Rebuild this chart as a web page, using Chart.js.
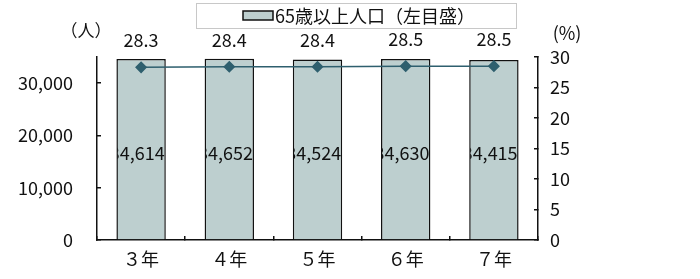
<!DOCTYPE html>
<html><head><meta charset="utf-8">
<script src="https://cdn.jsdelivr.net/npm/chart.js@4.4.1/dist/chart.umd.min.js"></script>
<style>html,body{margin:0;padding:0;background:#fff;}#wrap{width:700px;height:279px;position:relative;}</style>
</head><body><div id="wrap"><canvas id="c" width="700" height="279"></canvas></div>
<script>
const categories = ['３年', '４年', '５年', '６年', '７年'];
const population = [34614, 34652, 34524, 34630, 34415];
const ratio = [28.3, 28.4, 28.4, 28.5, 28.5];
const leftTicks = [0, 10000, 20000, 30000];
const rightTicks = [0, 5, 10, 15, 20, 25, 30];
const barLabel = '65歳以上人口（左目盛）';
const leftUnit = '（人）';
const rightUnit = '(%)';

const FONT = "'Noto Sans CJK JP', sans-serif";
const JFONT = "'Noto Sans CJK JP', sans-serif";
const BAR_FILL = '#bdcfcf';
const LINE_COL = '#2e5f6e';
const fmt = v => v.toLocaleString('en-US');

const extras = {
  id: 'extras',
  afterDatasetsDraw(chart) {
    const ctx = chart.ctx;
    const barMeta = chart.getDatasetMeta(1);
    const lineMeta = chart.getDatasetMeta(0);
    ctx.save();
    ctx.fillStyle = '#111';
    ctx.font = "18px " + FONT;
    ctx.textBaseline = 'middle';
    ctx.textAlign = 'center';
    barMeta.data.forEach((bar, i) => {
      const p = bar.getProps(['x', 'y', 'base', 'width'], true);
      ctx.save();
      ctx.beginPath();
      ctx.rect(p.x - p.width / 2 + 1, p.y, p.width - 2, p.base - p.y);
      ctx.clip();
      ctx.textAlign = 'right';
      ctx.fillText(fmt(population[i]), p.x + p.width / 2 - 1, 153);
      ctx.restore();
    });
    lineMeta.data.forEach((pt, i) => {
      ctx.fillText(ratio[i].toFixed(1), pt.x, pt.y - 27);
    });
    ctx.restore();
  },
  afterDraw(chart) {
    const ctx = chart.ctx;
    ctx.save();
    // legend box
    ctx.strokeStyle = '#c8c8c8';
    ctx.lineWidth = 1;
    ctx.strokeRect(196.5, 3.5, 320, 25);
    ctx.fillStyle = BAR_FILL;
    ctx.fillRect(243, 11, 30, 9);
    ctx.strokeStyle = '#111';
    ctx.lineWidth = 1.5;
    ctx.strokeRect(243, 11, 30, 9);
    ctx.fillStyle = '#111';
    ctx.font = "18px " + JFONT;
    ctx.textBaseline = 'middle';
    ctx.textAlign = 'left';
    ctx.fillText(barLabel, 275, 16);
    // units
    ctx.font = "17px " + JFONT;
    ctx.textAlign = 'center';
    ctx.fillText(leftUnit, 86, 31);
    ctx.font = "18px " + JFONT;
    ctx.fillText(rightUnit, 567, 33);
    ctx.restore();
  }
};

new Chart(document.getElementById('c'), {
  data: {
    labels: categories,
    datasets: [
      {
        type: 'line', label: '割合', data: ratio, yAxisID: 'y2',
        borderColor: LINE_COL, backgroundColor: LINE_COL, borderWidth: 1.5,
        pointStyle: 'rectRot', pointRadius: 5, pointHoverRadius: 5, order: 0
      },
      {
        type: 'bar', label: barLabel, data: population, yAxisID: 'y',
        backgroundColor: BAR_FILL, borderColor: '#111', borderWidth: 1.5,
        categoryPercentage: 1, barPercentage: 0.56, order: 1
      }
    ]
  },
  options: {
    responsive: false, animation: false, devicePixelRatio: 1,
    layout: { padding: { top: 57, left: 0, right: 0, bottom: 0 } },
    plugins: { legend: { display: false }, tooltip: { enabled: false } },
    scales: {
      x: {
        offset: true,
        grid: { display: true, drawOnChartArea: false, offset: true, tickLength: -4, color: '#111', tickColor: '#111', lineWidth: 1.5 },
        border: { display: true, color: '#111', width: 1.5 },
        ticks: { color: '#111', font: { size: 18, family: JFONT }, padding: 12, maxRotation: 0 },
        afterFit(s) { s.height = 39; }
      },
      y: {
        position: 'left', min: 0, max: 35000,
        afterBuildTicks(s) { s.ticks = leftTicks.map(v => ({ value: v })); },
        grid: { drawOnChartArea: false, tickLength: -4, color: '#111', tickColor: '#111', lineWidth: 1.5 },
        border: { display: true, color: '#111', width: 1.5 },
        ticks: { color: '#111', font: { size: 18, family: FONT }, padding: 28, callback: v => fmt(v) },
        afterFit(s) { s.width = 97; }
      },
      y2: {
        position: 'right', min: 0, max: 30,
        afterBuildTicks(s) { s.ticks = rightTicks.map(v => ({ value: v })); },
        grid: { drawOnChartArea: false, tickLength: -4, color: '#111', tickColor: '#111', lineWidth: 1.5 },
        border: { display: true, color: '#111', width: 1.5 },
        ticks: { color: '#111', font: { size: 18, family: FONT }, padding: 16 },
        afterFit(s) { s.width = 162; }
      }
    }
  },
  plugins: [extras]
});
</script></body></html>
